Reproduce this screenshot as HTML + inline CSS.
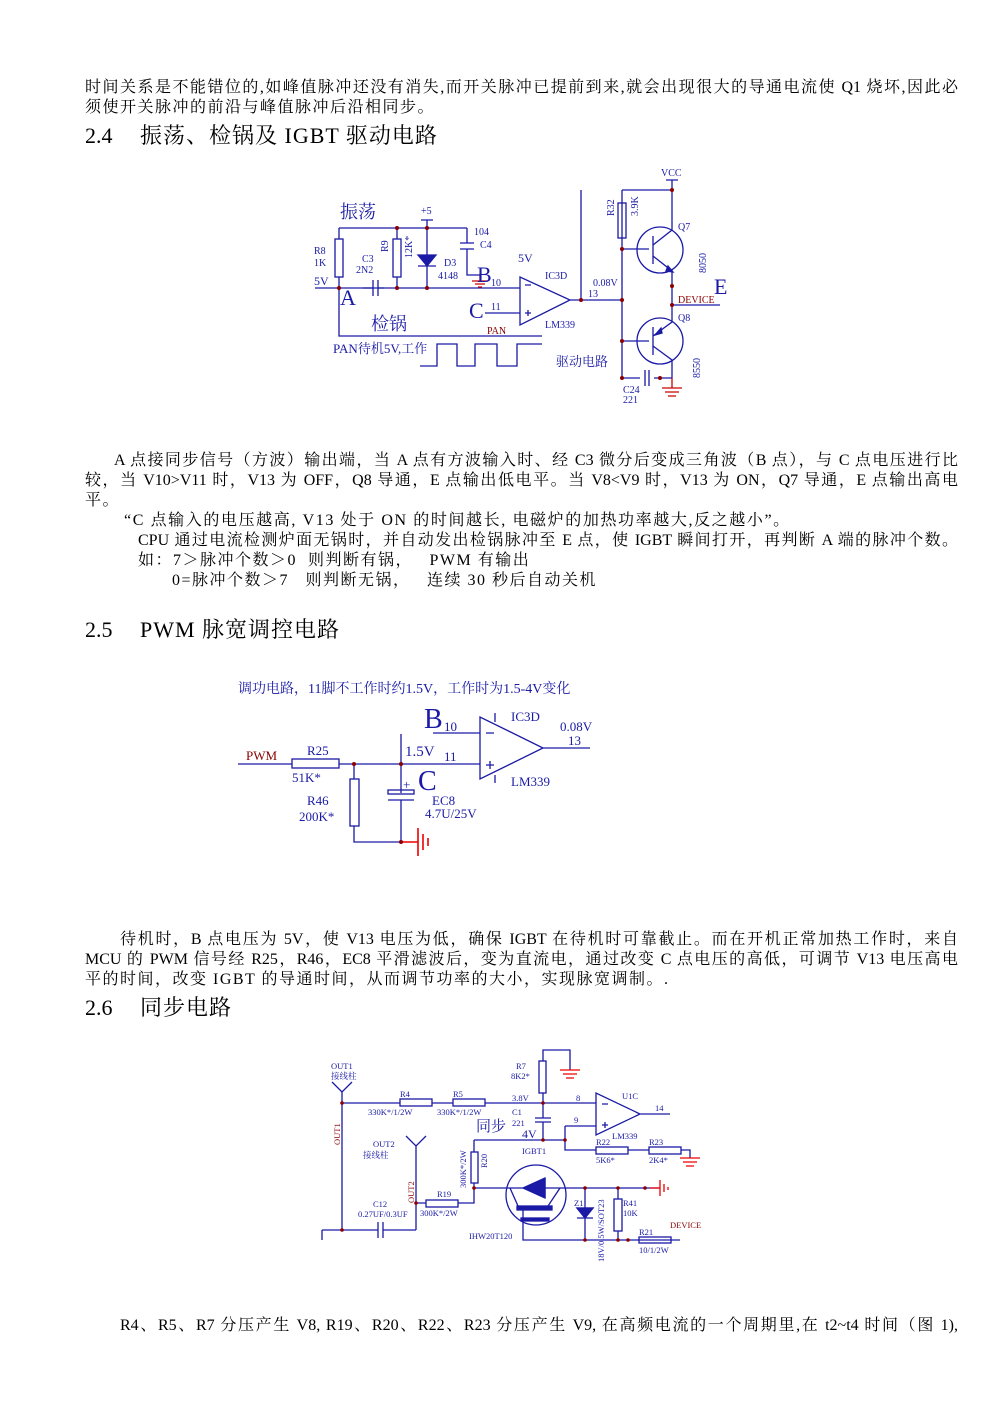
<!DOCTYPE html>
<html><head><meta charset="utf-8"><style>
body{margin:0;background:#fff;}
#p{position:relative;width:993px;height:1404px;overflow:hidden;font-family:"Liberation Serif","Noto Serif CJK SC",serif;color:#000;}
.l{position:absolute;font-size:16px;line-height:20px;white-space:nowrap;letter-spacing:1.5px;}
.j{text-align:justify;text-align-last:justify;white-space:normal;letter-spacing:0;}
.h{position:absolute;font-size:22px;line-height:26px;white-space:nowrap;letter-spacing:1px;}
.n{position:absolute;font-size:22px;line-height:26px;}
svg{position:absolute;left:0;top:0;}
svg text{font-family:"Liberation Serif","Noto Serif CJK SC",serif;}
</style></head><body><div id="p">
<div class="l j" style="left:85px;top:78px;width:873px">时间关系是不能错位的,如峰值脉冲还没有消失,而开关脉冲已提前到来,就会出现很大的导通电流使 Q1 烧坏,因此必</div>
<div class="l" style="left:85px;top:98px">须使开关脉冲的前沿与峰值脉冲后沿相同步。</div>
<div class="n" style="left:85px;top:123px">2.4</div><div class="h" style="left:140px;top:123px">振荡、检锅及 IGBT 驱动电路</div>

<div class="l j" style="left:114px;top:451px;width:844px">A 点接同步信号（方波）输出端，当 A 点有方波输入时、经 C3 微分后变成三角波（B 点），与 C 点电压进行比</div>
<div class="l j" style="left:85px;top:471px;width:873px">较，当 V10&gt;V11 时，V13 为 OFF，Q8 导通，E 点输出低电平。当 V8&lt;V9 时，V13 为 ON，Q7 导通，E 点输出高电</div>
<div class="l" style="left:85px;top:491px">平。</div>
<div class="l" style="left:124px;top:511px;letter-spacing:1.6px">“C 点输入的电压越高, V13 处于 ON 的时间越长, 电磁炉的加热功率越大,反之越小”。</div>
<div class="l j" style="left:138px;top:531px;width:820px">CPU 通过电流检测炉面无锅时，并自动发出检锅脉冲至 E 点，使 IGBT 瞬间打开，再判断 A 端的脉冲个数。</div>
<div class="l" style="left:138px;top:551px">如：7＞脉冲个数＞0&nbsp;&nbsp;则判断有锅，&nbsp;&nbsp;&nbsp;PWM 有输出</div>
<div class="l" style="left:172px;top:571px">0=脉冲个数＞7&nbsp;&nbsp;&nbsp;则判断无锅，&nbsp;&nbsp;&nbsp;连续 30 秒后自动关机</div>
<div class="n" style="left:85px;top:617px">2.5</div><div class="h" style="left:140px;top:617px">PWM 脉宽调控电路</div>

<div class="l j" style="left:120px;top:930px;width:838px">待机时，B 点电压为 5V，使 V13 电压为低，确保 IGBT 在待机时可靠截止。而在开机正常加热工作时，来自</div>
<div class="l j" style="left:85px;top:950px;width:873px">MCU 的 PWM 信号经 R25，R46，EC8 平滑滤波后，变为直流电，通过改变 C 点电压的高低，可调节 V13 电压高电</div>
<div class="l" style="left:85px;top:970px">平的时间，改变 IGBT 的导通时间，从而调节功率的大小，实现脉宽调制。.</div>
<div class="n" style="left:85px;top:995px">2.6</div><div class="h" style="left:140px;top:995px">同步电路</div>
<div class="l j" style="left:120px;top:1316px;width:838px">R4、R5、R7 分压产生 V8, R19、R20、R22、R23 分压产生 V9, 在高频电流的一个周期里,在 t2~t4 时间（图 1),</div>

<svg width="993" height="1404" fill="none" stroke="#1a1aa6" stroke-width="1.3">
<!-- ===== Circuit 1 ===== -->
<g>
<path d="M315 288H520M339 228H467M339 228V239M339 277V336H542M397 228V239M397 277V288M427 220V288M467 228V243M467 249V275H480M373 280V296M378 280V296"/>
<path d="M363 288H373M378 288H384" />
<rect x="335" y="239" width="8" height="38"/><rect x="393" y="239" width="8" height="38"/>
<path d="M418 255H436L427 266Z M418 266H436" fill="#1a1aa6"/>
<path d="M460 243H474M460 249H474M421 220H433"/>
<path d="M485 313H520M520 277V325L570 300Z M570 300H622M581 190V300M622 190V378M622 190H672V180M666 180H678"/>
<rect x="618" y="203" width="8" height="35"/>
<path d="M622 249H649M622 341H649"/>
<circle cx="660" cy="250" r="23"/><circle cx="660" cy="341" r="23"/>
<path d="M653 236V264M653 327V355M653 245L672 230V190M653 256L672 271V300M653 336L672 322V300M653 346L672 360V378M672 305H720"/>
<path d="M668 266L673 272L666 271Z" fill="#1a1aa6"/>
<path d="M655 335L661 328L662 333Z" fill="#1a1aa6"/>
<path d="M622 378H640M645 370V386M649 370V386M654 378H672"/>
<path d="M420 366H437V344H457V366H475V344H497V366H517V344H542"/>
<path d="M525 285H531M525 313H531M528 310V316"/>
<g stroke="#c00"><path d="M672 378V388M662 388H682M665 392H679M668 396H676M480 275V281M472 281H488M475 284H485M478 287H482"/></g>
<g fill="#8b0000" stroke="none"><circle cx="339" cy="288" r="2"/><circle cx="397" cy="228" r="2"/><circle cx="427" cy="228" r="2"/><circle cx="397" cy="288" r="2"/><circle cx="427" cy="288" r="2"/><circle cx="581" cy="300" r="2"/><circle cx="622" cy="300" r="2"/><circle cx="622" cy="249" r="2"/><circle cx="622" cy="341" r="2"/><circle cx="622" cy="378" r="2"/><circle cx="672" cy="190" r="2"/><circle cx="672" cy="286" r="2"/><circle cx="672" cy="305" r="2"/><circle cx="660" cy="378" r="2"/></g>
<g fill="#1a1aa6" stroke="none" font-size="10">
<text x="340" y="218" font-size="18">振荡</text><text x="421" y="214">+5</text>
<text x="314" y="254">R8</text><text x="314" y="266">1K</text><text x="314" y="285" font-size="12">5V</text>
<text x="362" y="262">C3</text><text x="356" y="273">2N2</text>
<text x="474" y="235">104</text><text x="480" y="248">C4</text>
<text x="444" y="266">D3</text><text x="438" y="279">4148</text>
<text x="477" y="282" font-size="22">B</text><text x="491" y="286">10</text>
<text x="340" y="305" font-size="22">A</text>
<text x="469" y="318" font-size="22">C</text><text x="491" y="310">11</text>
<text x="518" y="262" font-size="12">5V</text><text x="545" y="279">IC3D</text>
<text x="545" y="328">LM339</text>
<text x="371" y="330" font-size="18">检锅</text>
<text x="333" y="353" font-size="13">PAN待机5V,工作</text>
<text x="556" y="366" font-size="13">驱动电路</text>
<text x="593" y="286">0.08V</text><text x="588" y="297">13</text>
<text x="661" y="176">VCC</text><text x="678" y="230">Q7</text><text x="678" y="321">Q8</text>
<text x="623" y="393">C24</text><text x="623" y="403">221</text>
<text x="714" y="294" font-size="22">E</text>
<text transform="translate(614,216) rotate(-90)">R32</text><text transform="translate(638,216) rotate(-90)">3.9K</text>
<text transform="translate(388,252) rotate(-90)">R9</text><text transform="translate(412,258) rotate(-90)">12K*</text>
<text transform="translate(706,273) rotate(-90)">8050</text><text transform="translate(700,378) rotate(-90)">8550</text>
</g>
<g fill="#8b0000" stroke="none" font-size="10"><text x="487" y="334">PAN</text><text x="678" y="303">DEVICE</text></g>
</g>

<!-- ===== Circuit 2 ===== -->
<g>
<path d="M238 764H292M339 764H480M433 733H480M354 764V779M354 826V842H401M401 734V793M401 800V842M480 717V779L543 748Z M543 748H590M486 733H494M486 765H494M490 761V769M495 722V713M495 775V783"/>
<rect x="292" y="759" width="47" height="9"/><rect x="350" y="779" width="9" height="47"/>
<rect x="388" y="790" width="26" height="4"/><path d="M388 800H414"/>
<g stroke="#e00" stroke-width="1.6"><path d="M401 842H418M418 828V856M423 834V850M428 838V846"/></g>
<g fill="#8b0000" stroke="none"><circle cx="354" cy="764" r="2"/><circle cx="401" cy="764" r="2"/><circle cx="401" cy="842" r="2"/></g>
<g fill="#1a1aa6" stroke="none" font-size="13">
<text x="238" y="693" font-size="14">调功电路，11脚不工作时约1.5V，工作时为1.5-4V变化</text>
<text x="424" y="728" font-size="28">B</text><text x="444" y="731">10</text>
<text x="511" y="721">IC3D</text><text x="560" y="731">0.08V</text><text x="568" y="745">13</text>
<text x="307" y="755">R25</text><text x="292" y="782">51K*</text>
<text x="405" y="756" font-size="15">1.5V</text><text x="444" y="761">11</text>
<text x="418" y="790" font-size="28">C</text><text x="403" y="789" font-size="13">+</text>
<text x="511" y="786">LM339</text><text x="307" y="805">R46</text><text x="299" y="821">200K*</text>
<text x="432" y="805">EC8</text><text x="425" y="818">4.7U/25V</text>
</g>
<text x="246" y="760" fill="#8b0000" stroke="none" font-size="13" font-family="Liberation Serif">PWM</text>
</g>

<!-- ===== Circuit 3 ===== -->
<g>
<path d="M332 1082L342 1092L352 1082M342 1092V1230M342 1103H400M432 1103H453M485 1103H596M543 1093V1103V1118M535 1118H551M535 1122H551M543 1122V1140M474 1140H565M474 1140V1152M474 1183V1188H660M543 1061V1050H570V1070M596 1093V1135L640 1114Z M640 1114H670M565 1126H596M565 1126V1150H596M628 1150H649M681 1150H690V1158M602 1104H608M602 1125H608M605 1122V1128"/>
<rect x="400" y="1099" width="32" height="7"/><rect x="453" y="1099" width="32" height="7"/>
<rect x="539" y="1061" width="7" height="32"/><rect x="596" y="1147" width="32" height="7"/><rect x="649" y="1147" width="32" height="7"/>
<rect x="471" y="1152" width="7" height="31"/>
<path d="M406 1136L416 1146L426 1136M416 1146V1230M416 1203H426M458 1203H474V1188"/>
<rect x="426" y="1200" width="32" height="7"/>
<path d="M322 1230H378M383 1230H416M378 1222V1238M383 1222V1238M322 1230V1240"/>
<circle cx="536" cy="1195" r="30"/>
<path d="M523 1188L545 1178V1198Z" fill="#1a1aa6"/>
<path d="M545 1178V1198M510 1188L518 1206M560 1188L548 1206M523 1210V1240H680"/>
<rect x="517" y="1206" width="35" height="4" fill="#1a1aa6"/><rect x="521" y="1218" width="28" height="3" fill="#1a1aa6"/>
<path d="M585 1188V1240M577 1208H593L585 1218Z M577 1218H593" /><path d="M577 1208H593L585 1218Z" fill="#1a1aa6"/>
<path d="M618 1188V1199M618 1231V1240"/><rect x="614" y="1199" width="8" height="32"/>
<rect x="639" y="1237" width="32" height="6"/>
<g stroke="#e00"><path d="M570 1070H560M580 1070H560M563 1074H577M566 1078H574M690 1158H680M700 1158H680M683 1162H697M686 1166H694M650 1188H660M660 1180V1196M664 1184V1192M668 1187V1190"/></g>
<g fill="#8b0000" stroke="none"><circle cx="342" cy="1103" r="1.8"/><circle cx="543" cy="1103" r="1.8"/><circle cx="543" cy="1140" r="1.8"/><circle cx="565" cy="1140" r="1.8"/><circle cx="474" cy="1188" r="1.8"/><circle cx="585" cy="1188" r="1.8"/><circle cx="618" cy="1188" r="1.8"/><circle cx="645" cy="1188" r="1.8"/><circle cx="416" cy="1203" r="1.8"/><circle cx="342" cy="1230" r="1.8"/><circle cx="585" cy="1240" r="1.8"/><circle cx="618" cy="1240" r="1.8"/><circle cx="628" cy="1240" r="1.8"/></g>
<g fill="#1a1aa6" stroke="none" font-size="8.5">
<text x="331" y="1069">OUT1</text><text x="331" y="1079">接线柱</text>
<text x="400" y="1097">R4</text><text x="453" y="1097">R5</text>
<text x="368" y="1115">330K*/1/2W</text><text x="437" y="1115">330K*/1/2W</text>
<text x="516" y="1069">R7</text><text x="511" y="1079">8K2*</text>
<text x="512" y="1101">3.8V</text><text x="576" y="1101">8</text><text x="574" y="1123">9</text>
<text x="622" y="1099">U1C</text><text x="655" y="1111">14</text>
<text x="512" y="1115">C1</text><text x="512" y="1126">221</text>
<text x="476" y="1131" font-size="15">同步</text><text x="522" y="1138" font-size="12">4V</text>
<text x="596" y="1145">R22</text><text x="612" y="1139">LM339</text><text x="649" y="1145">R23</text>
<text x="596" y="1163">5K6*</text><text x="649" y="1163">2K4*</text>
<text x="522" y="1154">IGBT1</text>
<text x="373" y="1147">OUT2</text><text x="363" y="1158">接线柱</text>
<text x="437" y="1197">R19</text><text x="420" y="1216">300K*/2W</text>
<text x="373" y="1207">C12</text><text x="358" y="1217">0.27UF/0.3UF</text>
<text x="469" y="1239">IHW20T120</text>
<text x="574" y="1206">Z1</text><text x="623" y="1206">R41</text><text x="623" y="1216">10K</text>
<text x="639" y="1235">R21</text><text x="639" y="1253">10/1/2W</text>
<text transform="translate(466,1188) rotate(-90)">300K*/2W</text><text transform="translate(487,1168) rotate(-90)">R20</text>
<text transform="translate(604,1262) rotate(-90)">18V/0.5W/SOT23</text>
</g>
<g fill="#8b0000" stroke="none" font-size="8.5"><text x="670" y="1228">DEVICE</text>
<text transform="translate(340,1145) rotate(-90)">OUT1</text><text transform="translate(414,1203) rotate(-90)">OUT2</text></g>
</g>
</svg>
</div></body></html>
